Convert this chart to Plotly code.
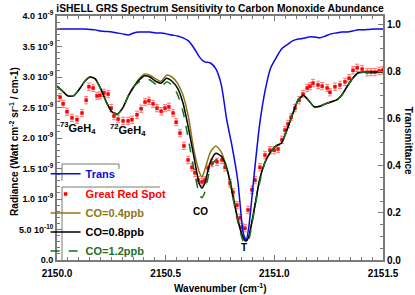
import plotly.graph_objects as go

# ---------------- data ----------------
wn_model = [2150.000, 2150.025, 2150.050, 2150.076, 2150.101, 2150.126, 2150.151, 2150.176,
            2150.202, 2150.227, 2150.252, 2150.277, 2150.302, 2150.328, 2150.353, 2150.378,
            2150.403, 2150.428, 2150.454, 2150.479, 2150.504, 2150.529, 2150.554, 2150.580,
            2150.605, 2150.630, 2150.655, 2150.667, 2150.680, 2150.706, 2150.731, 2150.756,
            2150.781, 2150.806, 2150.832, 2150.857, 2150.870, 2150.882, 2150.907, 2150.932,
            2150.958, 2150.983, 2151.008, 2151.033, 2151.058, 2151.084, 2151.109, 2151.134,
            2151.159, 2151.184, 2151.210, 2151.235, 2151.260, 2151.285, 2151.310, 2151.336,
            2151.361, 2151.386, 2151.411, 2151.436, 2151.462, 2151.487, 2151.500]

# Radiance in units of 1e-9 W cm-2 sr-1 / cm-1
co_08 = [2.85, 2.77, 2.69, 2.69, 2.79, 2.92, 3.00, 2.97, 2.80, 2.59, 2.43, 2.39, 2.49, 2.69, 2.84,
         2.95, 3.02, 3.00, 2.93, 2.90, 2.98, 2.93, 2.82, 2.57, 2.16, 1.69, 1.25, 1.18, 1.26, 1.61,
         1.75, 1.70, 1.51, 1.11, 0.66, 0.36, 0.31, 0.38, 0.82, 1.31, 1.61, 1.77, 1.87, 1.92, 2.13,
         2.39, 2.62, 2.70, 2.61, 2.51, 2.52, 2.56, 2.59, 2.62, 2.70, 2.85, 2.98, 3.07, 3.08, 3.08,
         3.08, 3.08, 3.08]

co_04 = [2.85, 2.77, 2.69, 2.69, 2.79, 2.92, 3.00, 2.97, 2.80, 2.59, 2.43, 2.39, 2.49, 2.69, 2.84,
         2.97, 3.05, 3.03, 2.97, 2.93, 3.03, 3.00, 2.90, 2.70, 2.34, 1.80, 1.44, 1.36, 1.48, 1.77,
         1.87, 1.77, 1.51, 1.15, 0.66, 0.36, 0.31, 0.38, 0.82, 1.31, 1.61, 1.77, 1.87, 1.92, 2.13,
         2.39, 2.62, 2.70, 2.61, 2.51, 2.52, 2.56, 2.59, 2.62, 2.70, 2.85, 2.98, 3.07, 3.08, 3.08,
         3.08, 3.08, 3.08]

co_12 = [2.85, 2.77, 2.69, 2.69, 2.79, 2.92, 3.00, 2.97, 2.80, 2.59, 2.43, 2.39, 2.49, 2.69, 2.84,
         2.92, 2.97, 2.95, 2.88, 2.84, 2.92, 2.87, 2.72, 2.43, 1.97, 1.48, 1.08, 1.02, 1.11, 1.51,
         1.64, 1.67, 1.48, 1.08, 0.62, 0.31, 0.28, 0.33, 0.79, 1.26, 1.61, 1.77, 1.87, 1.92, 2.13,
         2.39, 2.62, 2.70, 2.61, 2.51, 2.52, 2.56, 2.59, 2.62, 2.70, 2.85, 2.98, 3.07, 3.08, 3.08,
         3.08, 3.08, 3.08]

trans = [0.983, 0.983, 0.983, 0.983, 0.983, 0.983, 0.981, 0.979, 0.974, 0.972, 0.970, 0.966, 0.962,
         0.957, 0.966, 0.970, 0.970, 0.970, 0.966, 0.966, 0.962, 0.957, 0.953, 0.945, 0.932, 0.902,
         0.864, 0.851, 0.843, 0.838, 0.813, 0.745, 0.596, 0.481, 0.336, 0.115, 0.085, 0.136, 0.362,
         0.574, 0.723, 0.817, 0.860, 0.898, 0.915, 0.932, 0.940, 0.943, 0.949, 0.949, 0.945, 0.953,
         0.962, 0.966, 0.970, 0.970, 0.974, 0.979, 0.979, 0.981, 0.983, 0.983, 0.983]

wn_grs = [2150.014, 2150.028, 2150.046, 2150.069, 2150.092, 2150.115, 2150.134, 2150.147, 2150.166,
          2150.184, 2150.198, 2150.216, 2150.235, 2150.249, 2150.262, 2150.281, 2150.304, 2150.327,
          2150.345, 2150.368, 2150.387, 2150.405, 2150.423, 2150.442, 2150.460, 2150.479, 2150.497,
          2150.515, 2150.534, 2150.548, 2150.566, 2150.584, 2150.603, 2150.621, 2150.635, 2150.649,
          2150.667, 2150.681, 2150.695, 2150.713, 2150.736, 2150.759, 2150.773, 2150.796, 2150.810,
          2150.828, 2150.842, 2150.851, 2150.865, 2150.879, 2150.897, 2150.911, 2150.934, 2150.957,
          2150.980, 2150.999, 2151.017, 2151.035, 2151.049, 2151.063, 2151.077, 2151.095, 2151.114,
          2151.132, 2151.151, 2151.164, 2151.178, 2151.201, 2151.220, 2151.243, 2151.256, 2151.279,
          2151.302, 2151.325, 2151.344, 2151.362, 2151.381, 2151.404, 2151.427, 2151.445, 2151.463,
          2151.482, 2151.498]

grs = [2.67, 2.56, 2.43, 2.33, 2.30, 2.41, 2.62, 2.84, 2.82, 2.69,
       2.70, 2.74, 2.72, 2.49, 2.36, 2.31, 2.28, 2.28, 2.30, 2.38,
       2.48, 2.59, 2.61, 2.56, 2.49, 2.44, 2.49, 2.51, 2.41, 2.26,
       2.08, 1.87, 1.64, 1.52, 1.43, 1.31, 1.28, 1.31, 1.51, 1.59,
       1.61, 1.64, 1.52, 1.26, 1.11, 0.90, 0.69, 0.54, 0.52, 0.82,
       1.15, 1.31, 1.52, 1.72, 1.80, 1.80, 1.82, 1.97, 2.13, 2.23,
       2.34, 2.49, 2.62, 2.72, 2.82, 2.85, 2.90, 2.87, 2.85, 2.82,
       2.75, 2.84, 2.87, 2.92, 2.98, 3.11, 3.15, 3.13, 3.08, 3.08,
       3.08, 3.10, 3.11]
grs_err = 0.06

rad_ticks = [0.0, 0.5, 1.0, 1.5, 2.0, 2.5, 3.0, 3.5, 4.0]
rad_ticktext = ["0.0", "5.0 10<sup>-10</sup>", "1.0 10<sup>-9</sup>", "1.5 10<sup>-9</sup>",
                "2.0 10<sup>-9</sup>", "2.5 10<sup>-9</sup>", "3.0 10<sup>-9</sup>",
                "3.5 10<sup>-9</sup>", "4.0 10<sup>-9</sup>"]
trans_ticks = [0.0, 0.2, 0.4, 0.6, 0.8, 1.0]
wn_ticks = [2150.0, 2150.5, 2151.0, 2151.5]

# ---------------- style ----------------
FONT = "Liberation Sans, Arial, sans-serif"
BLUE = "#0a0ae6"
RED = "#ff0000"
OLIVE = "#8c7618"
BLACK = "#000000"
GREEN = "#1e6e1e"
AXIS = "#7a7a7a"

fig = go.Figure()

fig.add_trace(go.Scatter(x=wn_model, y=trans, mode="lines", yaxis="y2",
                         line=dict(color=BLUE, width=1.5, shape="spline", smoothing=0.6),
                         name=f"<span style='color:{BLUE}'>Trans</span>", legend="legend"))
fig.add_trace(go.Scatter(x=wn_grs, y=grs, mode="markers",
                         marker=dict(color=RED, size=3.5, symbol="square"),
                         error_y=dict(type="constant", value=grs_err, color="#ff7a7a",
                                      thickness=1, width=2),
                         name=f"<span style='color:{RED}'>Great Red Spot</span>", legend="legend2"))
fig.add_trace(go.Scatter(x=wn_model, y=co_04, mode="lines",
                         line=dict(color=OLIVE, width=1.5, shape="spline", smoothing=0.6),
                         name=f"<span style='color:{OLIVE}'>CO=0.4ppb</span>", legend="legend2"))
fig.add_trace(go.Scatter(x=wn_model, y=co_08, mode="lines",
                         line=dict(color=BLACK, width=1.5, shape="spline", smoothing=0.6),
                         name="CO=0.8ppb", legend="legend2"))
fig.add_trace(go.Scatter(x=wn_model, y=co_12, mode="lines",
                         line=dict(color=GREEN, width=1.5, dash="dash", shape="spline", smoothing=0.6),
                         name=f"<span style='color:{GREEN}'>CO=1.2ppb</span>", legend="legend2"))

def px2paper(px, py):
    return (px - 57) / 326.0, (260 - py) / 244.0

shapes = []
def seg(x0, y0, x1, y1):
    a = px2paper(x0, y0)
    b = px2paper(x1, y1)
    shapes.append(dict(type="line", xref="paper", yref="paper", x0=a[0], y0=a[1], x1=b[0], y1=b[1],
                       line=dict(color=AXIS, width=1)))
# legend frames (top + left, short right stub)
seg(62, 164, 119, 164); seg(62, 164, 62, 181); seg(119, 164, 119, 169)
seg(62, 187, 160, 187); seg(62, 187, 62, 260)

annotations = [
    dict(x=2150.097, y=2.16, xref="x", yref="y", text="<b><sup>73</sup>GeH<sub>4</sub></b>",
         showarrow=False, font=dict(size=11, color="black", family=FONT)),
    dict(x=2150.327, y=2.13, xref="x", yref="y", text="<b><sup>72</sup>GeH<sub>4</sub></b>",
         showarrow=False, font=dict(size=11, color="black", family=FONT)),
    dict(x=2150.658, y=0.80, xref="x", yref="y", text="<b>CO</b>",
         showarrow=False, font=dict(size=10, color="black", family=FONT)),
    dict(x=2150.861, y=0.21, xref="x", yref="y", text="<b>T</b>",
         showarrow=False, font=dict(size=10, color="black", family=FONT)),
    dict(x=-0.132, y=0.488, xref="paper", yref="paper", textangle=-90,
         xanchor="center", yanchor="middle",
         text="<b>Radiance (Watt cm<sup>-2</sup> sr<sup>-1</sup> / cm-1)</b>",
         showarrow=False, font=dict(size=10, color="black", family=FONT)),
    dict(x=1.077, y=0.488, xref="paper", yref="paper", textangle=90,
         xanchor="center", yanchor="middle",
         text="<b>Transmittance</b>",
         showarrow=False, font=dict(size=10, color="black", family=FONT)),
    dict(x=0.503, y=-0.115, xref="paper", yref="paper",
         xanchor="center", yanchor="middle",
         text="<b>Wavenumber (cm<sup>-1</sup>)</b>",
         showarrow=False, font=dict(size=10, color="black", family=FONT)),
]

tickfont = dict(size=10, color="black", family=FONT, weight="bold")
ytickfont = dict(size=9, color="black", family=FONT, weight="bold")
legfont = dict(size=11, color="black", family=FONT, weight="bold")

fig.update_layout(
    width=415, height=295,
    margin=dict(l=57, r=32, t=16, b=35, autoexpand=False),
    paper_bgcolor="white", plot_bgcolor="white",
    title=dict(text="<b>iSHELL GRS Spectrum Sensitivity to Carbon Monoxide Abundance</b>",
               x=0.5, xref="paper", xanchor="center", y=1 - 8 / 295, yanchor="middle",
               font=dict(size=10.3, color="black", family=FONT)),
    shapes=shapes,
    annotations=annotations,
    xaxis=dict(range=[2150.0, 2151.5], tickvals=wn_ticks, tickformat=".1f",
               ticks="inside", ticklen=5, tickcolor=AXIS, tickwidth=1,
               showline=True, linecolor=AXIS, linewidth=2, mirror="ticks",
               showgrid=False, zeroline=False, tickfont=tickfont, ticklabelstandoff=3,
               minor=dict(dtick=0.05, ticks="inside", ticklen=3, tickcolor=AXIS, showgrid=False)),
    yaxis=dict(range=[0, 4.0], tickvals=rad_ticks, ticktext=rad_ticktext,
               ticks="inside", ticklen=5, tickcolor=AXIS, tickwidth=1,
               showline=True, linecolor=AXIS, linewidth=2,
               showgrid=False, zeroline=False, tickfont=ytickfont,
               minor=dict(dtick=0.1, ticks="inside", ticklen=3, tickcolor=AXIS, showgrid=False)),
    yaxis2=dict(range=[0, 1.038], overlaying="y", side="right", tickvals=trans_ticks,
                tickformat=".1f", ticks="inside", ticklen=5, tickcolor=AXIS, tickwidth=1,
                showline=True, linecolor=AXIS, linewidth=2,
                showgrid=False, zeroline=False, tickfont=tickfont,
                minor=dict(dtick=0.05, ticks="inside", ticklen=3, tickcolor=AXIS, showgrid=False)),
    legend=dict(x=-0.035, y=0.413, xanchor="left", yanchor="top", bgcolor="rgba(0,0,0,0)",
                borderwidth=0, itemwidth=30, font=legfont, tracegroupgap=0,
                itemclick=False),
    legend2=dict(x=-0.035, y=0.330, xanchor="left", yanchor="top", bgcolor="rgba(0,0,0,0)",
                 borderwidth=0, itemwidth=30, font=legfont, tracegroupgap=0,
                 itemclick=False),
    showlegend=True,
)

fig.write_html("out.html", config={"displayModeBar": False},
               post_script="document.body.style.margin='0px';")
